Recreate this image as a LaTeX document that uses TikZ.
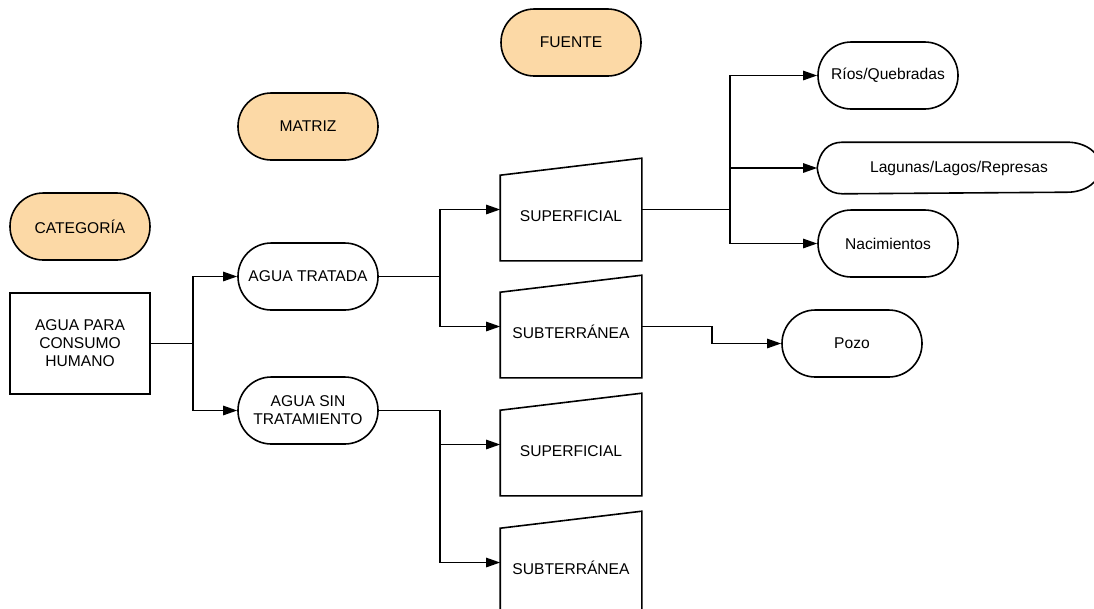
\documentclass[tikz,border=0pt]{standalone}
\usepackage{fontspec}
\setmainfont{Liberation Sans}
\usepackage{xcolor}
\usetikzlibrary{arrows.meta}

\definecolor{headfill}{RGB}{252,217,166}

\begin{document}
\begin{tikzpicture}[
  x=0.75pt, y=-0.75pt,
  font=\fontsize{11.7}{13.5}\selectfont,
  line width=1.2pt,
  box/.style={draw, align=center, minimum width=105pt, minimum height=50.25pt, inner sep=2pt},
  pill/.style={box, rounded corners=25pt},
  head/.style={pill, fill=headfill},
  tank/.style={align=center, minimum width=105pt, minimum height=75.75pt, text height=18pt, text depth=0pt, inner sep=0pt},
  arrow/.style={-{Triangle[length=10.5pt,width=7pt]}, line width=1.2pt},
]
\useasboundingbox (0,0) rectangle (1094,608);

% column headers
\node[head] (categoria) at (80,226.5) {CATEGOR\'IA};
\node[head] (matriz) at (308,126.5) {MATRIZ};
\node[head] (fuente) at (571,42.5) {FUENTE};

\node[box, minimum height=75.75pt] (consumo) at (80,343.5) {AGUA PARA\\CONSUMO\\HUMANO};
\node[pill] (tratada) at (308,276.5) {AGUA TRATADA};
\node[pill] (sintrat) at (308,410.5) {AGUA SIN\\TRATAMIENTO};

\node[tank] (sup1) at (571,209.5) {SUPERFICIAL};
\node[tank] (sub1) at (571,326.5) {SUBTERR\'ANEA};
\node[tank] (sup2) at (571,444.5) {SUPERFICIAL};
\node[tank] (sub2) at (571,562.5) {SUBTERR\'ANEA};
\foreach \t in {sup1,sub1,sup2,sub2}
  \draw (\t.north east) -- (\t.south east) -- (\t.south west) -- ([yshift=-12.75pt]\t.north west) -- cycle;

\node[pill] (rios) at (888,75.5) {R\'ios/Quebradas};
\node[minimum width=211.5pt, minimum height=37.5pt] (lagos) at (959,168) {Lagunas/Lagos/Represas};
\draw (lagos.west) .. controls ++(1.5pt,12pt) and ++(-11pt,0pt) .. ([xshift=19pt]lagos.north west)
  -- ([xshift=-25pt]lagos.north east) arc[start angle=90, end angle=-90, x radius=25pt, y radius=18.75pt]
  -- ([xshift=19pt]lagos.south west) .. controls ++(-11pt,0pt) and ++(1.5pt,-12pt) .. (lagos.west);
\node[pill] (nac) at (888,243.5) {Nacimientos};
\node[pill] (pozo) at (852,343.5) {Pozo};

% connectors
\coordinate (c1) at (193,343.5);
\coordinate (c2) at (440,276.5);
\coordinate (c3) at (440,410.5);
\coordinate (c4) at (730,209.5);
\coordinate (c5) at (712,326.5);

\draw[arrow] (consumo.east) -- (c1) |- (tratada);
\draw[arrow] (c1) |- (sintrat);
\draw[arrow] (tratada.east) -- (c2) |- (sup1);
\draw[arrow] (c2) |- (sub1);
\draw[arrow] (sintrat.east) -- (c3) |- (sup2);
\draw[arrow] (c3) |- (sub2);
\draw[arrow] (sup1.east) -- (c4) |- (rios);
\draw[arrow] (c4) |- (lagos);
\draw[arrow] (c4) |- (nac);
\draw[arrow] (sub1.east) -- (c5) |- (pozo);

\end{tikzpicture}
\end{document}
